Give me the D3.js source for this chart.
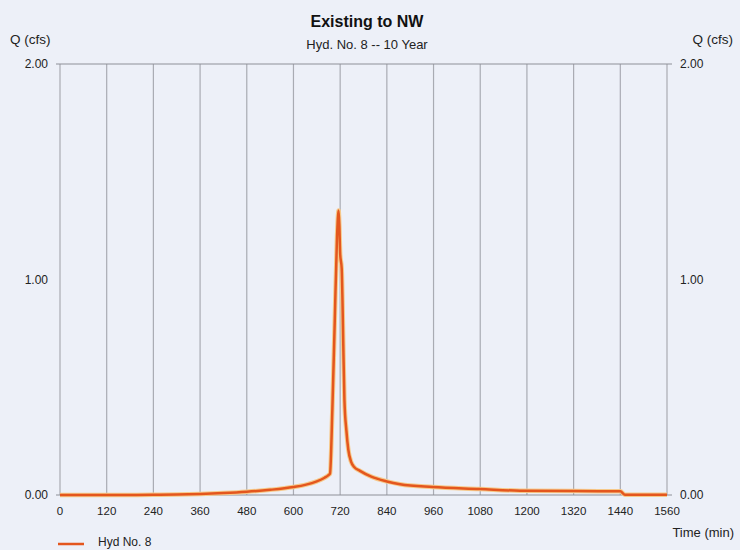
<!DOCTYPE html>
<html>
<head>
<meta charset="utf-8">
<script src="https://cdn.jsdelivr.net/npm/d3@7"></script>
<style>
  body { margin: 0; background: #edf0f8; }
  svg { display: block; font-family: "Liberation Sans", Arial, sans-serif; }
</style>
</head>
<body>
<div id="chart"></div>
<script>
// hydrograph: time (min) and flow (cfs)
var times = [0, 120, 240, 300, 360, 420, 480, 540, 600, 630, 660, 680, 690, 694, 700, 706, 712, 716,
             718, 720, 724, 726, 728, 731, 736, 741, 748, 756, 771, 800, 840, 874, 958, 1079, 1182, 1320, 1440, 1452, 1560];
var flows = [0, 0, 0.001, 0.002, 0.005, 0.009, 0.015, 0.024, 0.037, 0.047, 0.063, 0.08, 0.092, 0.10, 0.4, 0.8, 1.2, 1.32,
             1.25, 1.12, 1.05, 0.9, 0.7, 0.44, 0.3, 0.21, 0.155, 0.13, 0.112, 0.085, 0.063, 0.05, 0.037, 0.028, 0.02, 0.018, 0.017, 0.001, 0.001];
var xTicks = d3.range(0, 1561, 120);
var yTicks = [0, 1, 2];

var data = times.map(function(t, i) { return { t: t, q: flows[i] }; });

var W = 740, H = 550;
var m = { top: 64, right: 73, bottom: 55, left: 60 };
var w = W - m.left - m.right, h = H - m.top - m.bottom;

var svg = d3.select("#chart").append("svg")
    .attr("width", W)
    .attr("height", H);

var x = d3.scaleLinear().domain([0, 1560]).range([m.left, m.left + w]);
var y = d3.scaleLinear().domain([0, 2]).range([m.top + h, m.top]);

// vertical grid
svg.append("g").selectAll("line")
    .data(xTicks)
    .enter().append("line")
    .attr("x1", function(d) { return x(d); })
    .attr("x2", function(d) { return x(d); })
    .attr("y1", y(2))
    .attr("y2", y(0))
    .attr("stroke", "#a9abb3")
    .attr("stroke-width", 1.2);

// top and bottom frame lines, sticking out a bit as ticks
[0, 2].forEach(function(v) {
    svg.append("line")
        .attr("x1", x(0) - 4).attr("x2", x(1560) + 5)
        .attr("y1", y(v)).attr("y2", y(v))
        .attr("stroke", "#8e9098")
        .attr("stroke-width", 1);
});

// y labels both sides
var fmt = d3.format(".2f");
svg.append("g").selectAll("text")
    .data(yTicks)
    .enter().append("text")
    .attr("x", x(0) - 12)
    .attr("y", function(d) { return y(d) + 4; })
    .attr("text-anchor", "end")
    .style("font-size", "12px")
    .style("fill", "#222")
    .text(fmt);

svg.append("g").selectAll("text")
    .data(yTicks)
    .enter().append("text")
    .attr("x", x(1560) + 13)
    .attr("y", function(d) { return y(d) + 4; })
    .attr("text-anchor", "start")
    .style("font-size", "12px")
    .style("fill", "#222")
    .text(fmt);

// x labels
svg.append("g").selectAll("text")
    .data(xTicks)
    .enter().append("text")
    .attr("x", function(d) { return x(d); })
    .attr("y", y(0) + 20)
    .attr("text-anchor", "middle")
    .style("font-size", "11.5px")
    .style("fill", "#222")
    .text(function(d) { return d; });

// curve, with a faint yellow halo like the scan
var line = d3.line()
    .x(function(d) { return x(d.t); })
    .y(function(d) { return y(d.q); })
    .curve(d3.curveMonotoneX);

svg.append("path")
    .datum(data)
    .attr("d", line)
    .attr("fill", "none")
    .attr("stroke", "#f6c98a")
    .attr("stroke-width", 4.5)
    .attr("stroke-linejoin", "round");

svg.append("path")
    .datum(data)
    .attr("d", line)
    .attr("fill", "none")
    .attr("stroke", "#e4561e")
    .attr("stroke-width", 2.5)
    .attr("stroke-linejoin", "round");

// titles
svg.append("text")
    .attr("x", 367).attr("y", 27)
    .attr("text-anchor", "middle")
    .style("font-size", "16px")
    .style("font-weight", "bold")
    .style("fill", "#111")
    .text("Existing to NW");

svg.append("text")
    .attr("x", 367).attr("y", 49)
    .attr("text-anchor", "middle")
    .style("font-size", "13px")
    .style("fill", "#222")
    .text("Hyd. No. 8 -- 10 Year");

svg.append("text")
    .attr("x", 10).attr("y", 44)
    .style("font-size", "13.5px")
    .style("fill", "#222")
    .text("Q (cfs)");

svg.append("text")
    .attr("x", 733).attr("y", 44)
    .attr("text-anchor", "end")
    .style("font-size", "13.5px")
    .style("fill", "#222")
    .text("Q (cfs)");

svg.append("text")
    .attr("x", 734).attr("y", 537)
    .attr("text-anchor", "end")
    .style("font-size", "13px")
    .style("fill", "#222")
    .text("Time (min)");

// legend
svg.append("line")
    .attr("x1", 58).attr("x2", 84)
    .attr("y1", 544).attr("y2", 544)
    .attr("stroke", "#e4561e")
    .attr("stroke-width", 2.5);

svg.append("text")
    .attr("x", 98).attr("y", 546)
    .style("font-size", "12px")
    .style("fill", "#222")
    .text("Hyd No. 8");
</script>
</body>
</html>
